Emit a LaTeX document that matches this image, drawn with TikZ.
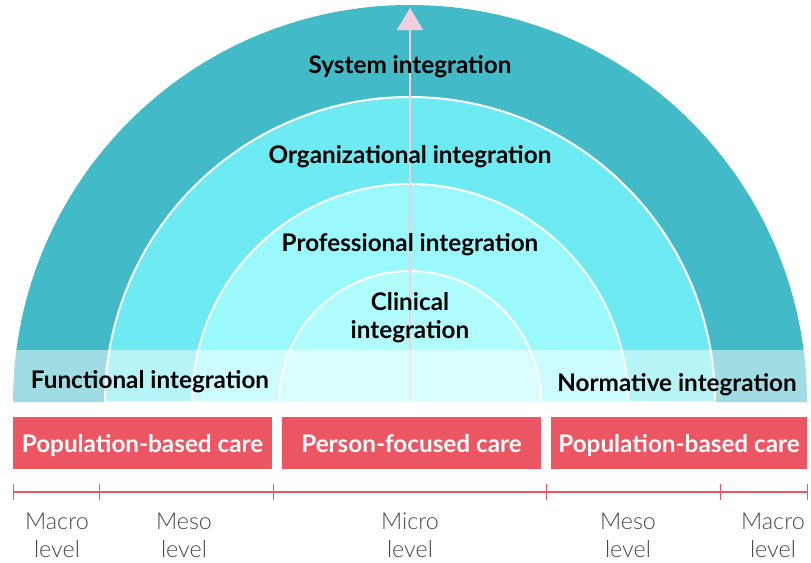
\documentclass[tikz,border=0pt]{standalone}
\usepackage{fontspec}
\setmainfont{Lato}
\newfontfamily\levelfont{Lato Light}
\usetikzlibrary{arrows.meta}

\definecolor{ringOuter}{HTML}{42BAC8}
\definecolor{ringOrg}{HTML}{6EEAF2}
\definecolor{ringProf}{HTML}{99F9FC}
\definecolor{ringClin}{HTML}{B1FDFE}
\definecolor{careRed}{HTML}{EB5662}
\definecolor{arrowPink}{HTML}{F2CFDC}
\definecolor{levelGray}{HTML}{474747}

\tikzset{every picture/.style={line width=0.75pt},
	ringlabel/.style={font=\fontsize{18.2}{21}\selectfont\bfseries, align=center, text=black, inner sep=0pt},
	carebox/.style={fill=careRed, text=white, font=\fontsize{18.2}{21}\selectfont\bfseries, minimum width=194pt, minimum height=39pt, inner sep=0pt, text height=17.5pt, text depth=4pt},
	levellabel/.style={font=\levelfont\fontsize{17.5}{21}\selectfont, align=center, text=levelGray, inner sep=0pt}}

\begin{document}
\begin{tikzpicture}[x=0.75pt,y=0.75pt,yscale=-1,xscale=1]
	\useasboundingbox (0,0) rectangle (811,562);
	\coordinate (centre) at (410,402);
	\coordinate (apex) at (410,8);

	%Shape: Half rings
	\fill [ringOuter] (13,402) arc (180:360:397) -- cycle ;
	\filldraw [fill=ringOrg, draw=white, line width=1.5pt] (105,402) arc (180:360:305) -- cycle ;
	\filldraw [fill=ringProf, draw=white, line width=1.5pt] (192,402) arc (180:360:218) -- cycle ;
	\filldraw [fill=ringClin, draw=white, line width=1.5pt] (279,402) arc (180:360:131) -- cycle ;

	%Straight Lines: axis arrow
	\draw [arrowPink, line width=1.5pt, -{Triangle[width=19.5pt,length=16.5pt]}] (centre) -- (apex) ;

	%Shape: Rectangle band
	\fill [white, opacity=0.5] (13,350) rectangle (807,402) ;

	% Text Node
	\draw (410,67) node [ringlabel] (system) {System integration};
	% Text Node
	\draw (410,157) node [ringlabel] (organizational) {Organizational integration};
	% Text Node
	\draw (410,245) node [ringlabel] (professional) {Professional integration};
	% Text Node
	\draw (410,318) node [ringlabel] (clinical) {Clinical\\integration};
	% Text Node
	\draw (150,382) node [ringlabel] (functional) {Functional integration};
	% Text Node
	\draw (677,385) node [ringlabel] (normative) {Normative integration};

	% Care boxes
	\draw (142.5,443) node [carebox] (popLeft) {Population-based care};
	\draw (411.5,443) node [carebox] (person) {Person-focused care};
	\draw (679,443) node [carebox, minimum width=192pt] (popRight) {Population-based care};

	%Straight Lines: level scale
	\coordinate (scaleLeft) at (13,492);
	\coordinate (scaleRight) at (807,492);
	\draw [careRed, line width=1.2pt] (scaleLeft) -- (scaleRight) ;
	\foreach \x in {13,99,273,546,720,807}
		\draw [careRed] (\x,484) -- (\x,500) ;

	% Text Node
	\draw (57,535) node [levellabel] (macroLeft) {Macro\\level};
	\draw (184,535) node [levellabel] (mesoLeft) {Meso\\level};
	\draw (410,535) node [levellabel] (micro) {Micro\\level};
	\draw (628,535) node [levellabel] (mesoRight) {Meso\\level};
	\draw (773,535) node [levellabel] (macroRight) {Macro\\level};

\end{tikzpicture}
\end{document}
